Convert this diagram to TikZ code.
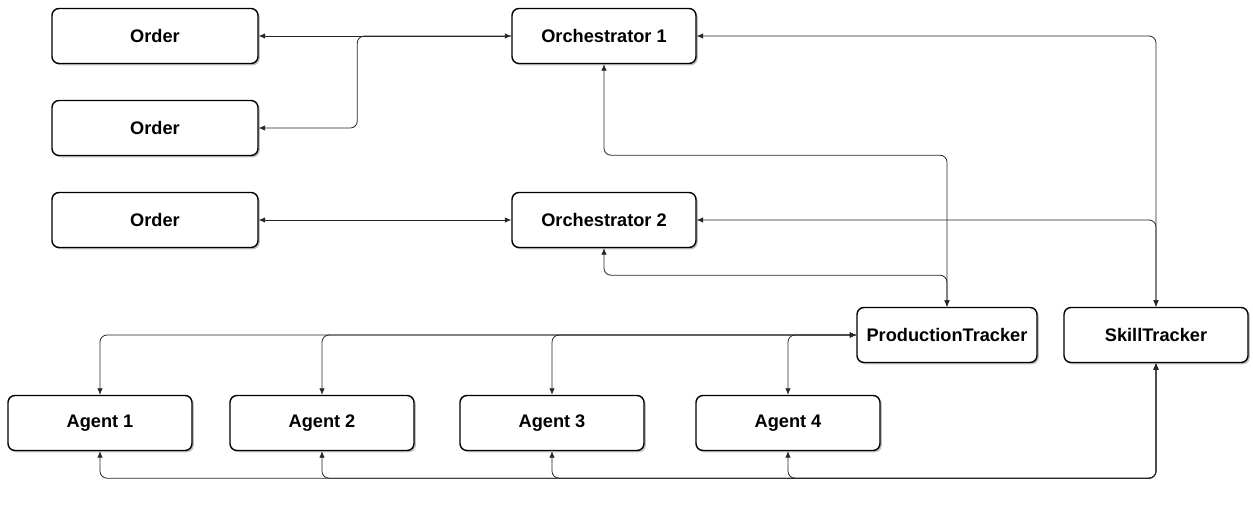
\documentclass[tikz,border=0pt]{standalone}
\usepackage{fontspec}
\setmainfont{Liberation Sans}
\usetikzlibrary{arrows.meta,shadows}
\begin{document}
\begin{tikzpicture}[x=1pt,y=-1pt,
  box/.style={draw=black, line width=1.4pt, rounded corners=7pt, fill=white,
    inner sep=0pt, font=\fontsize{18.2}{21}\selectfont\bfseries,
    drop shadow={shadow xshift=1.8pt, shadow yshift=-1.8pt, fill=black!35, opacity=0.7}},
  wide/.style={box, minimum width=206pt, minimum height=55pt},
  std/.style={box, minimum width=184pt, minimum height=55pt},
  link/.style={draw=black!85, line width=0.8pt, rounded corners=7pt},
  tipboth/.style={{Latex[length=6.5pt,width=5.5pt]}-{Latex[length=6.5pt,width=5.5pt]}},
  tipend/.style={-{Latex[length=6.5pt,width=5.5pt]}}]
\useasboundingbox (0,0) rectangle (1253,506);

% orders and orchestrators
\node[wide] (o1) at (155,36) {Order};
\node[wide] (o2) at (155,128) {Order};
\node[wide] (o3) at (155,220) {Order};
\node[std] (orch1) at (604,36) {Orchestrator 1};
\node[std] (orch2) at (604,220) {Orchestrator 2};

% trackers
\node[box, minimum width=180pt, minimum height=55pt] (pt) at (947,335) {ProductionTracker};
\node[std] (st) at (1156,335) {SkillTracker};

% agents
\node[std] (a1) at (100,423) {Agent 1};
\node[std] (a2) at (322,423) {Agent 2};
\node[std] (a3) at (552,423) {Agent 3};
\node[std] (a4) at (788,423) {Agent 4};

% order links
\draw[link,tipboth] (o1.east) -- (orch1.west);
\draw[link,tipend] (orch1.west) -- ++(-154,0) |- (o2.east);
\draw[link,tipboth] (o3.east) -- (orch2.west);

% orchestrators to production tracker
\draw[link,tipboth] (orch1.south) -- ++(0,91) -| (pt.north);
\draw[link,tipboth] (orch2.south) -- ++(0,27) -| (pt.north);

% orchestrators to skill tracker
\draw[link,tipboth] (orch1.east) -| (st.north);
\draw[link,tipboth] (orch2.east) -| (st.north);

% production tracker to agents
\foreach \a in {a1,a2,a3,a4}
  \draw[link,tipboth] (pt.west) -| (\a.north);

% skill tracker to agents
\foreach \a in {a1,a2,a3,a4}
  \draw[link,tipboth] (st.south) -- ++(0,115) -| (\a.south);
\end{tikzpicture}
\end{document}
